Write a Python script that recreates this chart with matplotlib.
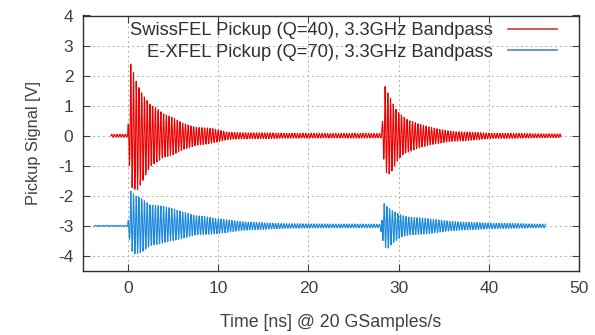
import numpy as np
import matplotlib
matplotlib.use("Agg")
import matplotlib.pyplot as plt

# ---- data (envelopes of the ringing pickup signals) ----
f_carrier = 3.3          # GHz (bandpass centre, from legend)
dt = 0.05                # ns  (20 GSamples/s)

labels = ["SwissFEL Pickup (Q=40), 3.3GHz Bandpass",
          "E-XFEL Pickup (Q=70), 3.3GHz Bandpass"]

# SwissFEL (red), baseline 0 V
red_offset = 0.0
red_bursts = [0.0, 28.2]
red_t = [-1.9, -0.05, 0.3, 1.0, 1.6, 2.4, 3.1, 3.9, 5.0, 6.1, 7.6, 9.4, 11.0, 14.0,
         20.0, 28.1, 28.5, 28.9, 29.3, 29.8, 30.3, 31.2, 32.2, 33.5, 35.0, 36.4, 40.0, 48.0]
red_up = [0.05, 0.05, 2.39, 1.75, 1.45, 1.20, 1.00, 0.75, 0.59, 0.42, 0.31, 0.24, 0.12, 0.10,
          0.08, 0.08, 1.64, 1.37, 1.14, 0.87, 0.76, 0.55, 0.40, 0.28, 0.20, 0.14, 0.09, 0.06]
red_low = [0.05, 0.05, 1.70, 1.86, 1.60, 1.19, 0.97, 0.74, 0.63, 0.47, 0.36, 0.24, 0.13, 0.10,
           0.08, 0.08, 1.20, 1.30, 1.19, 0.91, 0.74, 0.58, 0.41, 0.30, 0.24, 0.19, 0.10, 0.06]

# E-XFEL (blue), baseline -3 V
blue_offset = -3.0
blue_bursts = [0.0, 28.1]
blue_t = [-3.8, -0.05, 0.3, 0.8, 1.5, 2.4, 4.3, 6.1, 8.0, 9.8, 11.6, 13.5, 16.0, 20.0,
          27.95, 28.4, 28.8, 29.3, 30.2, 31.4, 33.2, 35.1, 37.0, 40.0, 43.0, 46.3]
blue_up = [0.02, 0.02, 1.16, 1.02, 0.95, 0.80, 0.63, 0.47, 0.36, 0.24, 0.19, 0.13, 0.09, 0.07,
           0.06, 0.74, 0.62, 0.52, 0.41, 0.30, 0.24, 0.19, 0.13, 0.10, 0.08, 0.06]
blue_low = [0.02, 0.02, 0.80, 0.95, 0.92, 0.76, 0.53, 0.42, 0.31, 0.26, 0.20, 0.14, 0.10, 0.07,
            0.06, 0.70, 0.76, 0.60, 0.42, 0.31, 0.26, 0.20, 0.14, 0.10, 0.08, 0.06]

x_ticks = [0, 10, 20, 30, 40, 50]
y_ticks = [-4, -3, -2, -1, 0, 1, 2, 3, 4]


def waveform(tk, up, low, offset, bursts):
    t = np.arange(tk[0], tk[-1] + dt / 2, dt)
    eu = np.interp(t, tk, up)
    el = np.interp(t, tk, low)
    t0 = np.where(t >= bursts[1], bursts[1], bursts[0])
    c = np.cos(2 * np.pi * f_carrier * (t - t0))
    y = offset + np.where(c > 0, eu * c, el * c)
    return t, y


plt.rcParams['font.family'] = ['Liberation Sans', 'DejaVu Sans']
plt.rcParams['axes.unicode_minus'] = False

fig = plt.figure(figsize=(5.95, 3.35), dpi=100)
ax = fig.add_axes([83 / 595, 64 / 335, (579 - 83) / 595, (271 - 15.5) / 335])

tr, yr = waveform(red_t, red_up, red_low, red_offset, red_bursts)
tb, yb = waveform(blue_t, blue_up, blue_low, blue_offset, blue_bursts)
ax.plot(tr, yr, color='#ee0000', lw=0.8, label=labels[0])
ax.plot(tb, yb, color='#1a88e0', lw=0.8, label=labels[1])

ax.set_xlim(-5, 50)
ax.set_ylim(-4.5, 4)
ax.set_xticks(x_ticks)
ax.set_yticks(y_ticks)
ax.tick_params(direction='in', length=5, width=0.8, top=True, right=True,
               labelsize=12.5, labelcolor='#404040', color='#404040', pad=7)
ax.grid(True, color='#b0b0b0', linestyle=(0, (2, 3)), linewidth=0.7)
for s in ax.spines.values():
    s.set_color('#303030')
    s.set_linewidth(1.0)

ax.set_xlabel("Time [ns] @ 20 GSamples/s", fontsize=12.8, color='#404040', labelpad=13)
ax.set_ylabel("Pickup Signal [V]", fontsize=11.8, color='#404040', labelpad=12)

leg = ax.legend(loc='upper right', bbox_to_anchor=(557 / 595, 1 - 22 / 335),
                bbox_transform=fig.transFigure, frameon=False, markerfirst=False,
                fontsize=13.2, handlelength=2.7, handletextpad=0.8, borderpad=0,
                borderaxespad=0, labelspacing=0.25)
leg.get_lines()[0].set_color('#c83c3c')
leg.get_lines()[1].set_color('#4a8cb8')
for line in leg.get_lines():
    line.set_linewidth(1.2)
for txt in leg.get_texts():
    txt.set_color('#303030')

fig.savefig("out.png", dpi=100)
